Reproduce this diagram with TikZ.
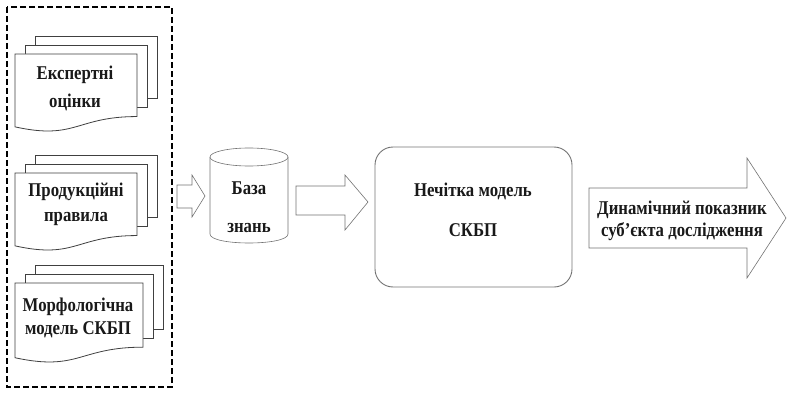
\documentclass[tikz,border=0pt]{standalone}
\usepackage{fontspec}
\setmainfont{Liberation Serif}[FakeStretch=0.86]
\newcommand\mydocstack[5]{% x, y, w, H, name
  \begin{scope}[shift={(#1,#2)}]
    \fill[white] (20,-18) rectangle ({#3+20},{0.802*#4-18});
    \draw[docline] (20,-9) -- (20,-18) -- ({#3+20},-18) -- ({#3+20},{0.802*#4-18}) -- ({#3+10},{0.802*#4-18});
    \fill[white] (10,-9) rectangle ({#3+10},{0.802*#4-9});
    \draw[docline] (10,0) -- (10,-9) -- ({#3+10},-9) -- ({#3+10},{0.802*#4-9}) -- (#3,{0.802*#4-9});
    \draw[docline,fill=white] (0,0) -- (#3,0) -- (#3,{0.802*#4})
      .. controls ({0.5*#3},{0.802*#4}) and ({0.5*#3},{1.107*#4}) .. (0,{0.934*#4}) -- cycle;
    \coordinate (#5) at ({0.5*#3},{0.43*#4});
  \end{scope}}
\begin{document}
\begin{tikzpicture}[x=1pt,y=-1pt,
  docline/.style={draw=black!75,line width=0.8pt},
  grayline/.style={draw=black!55,line width=0.6pt,fill=white},
  lbl/.style={font=\fontsize{19.5pt}{27pt}\selectfont\bfseries,align=center,inner sep=0pt,text=black!90}]
\useasboundingbox (0,0) rectangle (790,396);
% dashed group
\draw[black,line width=2pt,dash pattern=on 6pt off 3pt] (7,7) rectangle (172,387);
% documents
\mydocstack{15}{54}{122}{78}{d1}
\mydocstack{15}{173}{122}{78}{d2}
\mydocstack{15}{283}{128}{80}{d3}
\node[lbl,font=\fontsize{19.5pt}{28pt}\selectfont\bfseries] (t1) at (75,88) {Експертні\\оцінки};
\node[lbl,font=\fontsize{19.5pt}{25pt}\selectfont\bfseries] (t2) at (76,204) {Продукційні\\правила};
\node[lbl,font=\fontsize{19.5pt}{23pt}\selectfont\bfseries] (t3) at (78,318) {Морфологічна\\модель СКБП};
% arrow 1
\draw[grayline] (177,185) -- (192,185) -- (192,175) -- (205,196) -- (192,217) -- (192,208) -- (177,208) -- cycle;
% cylinder
\draw[grayline] (210,157) -- (210,234) .. controls (210,246) and (288,246) .. (288,234) -- (288,157);
\draw[grayline] (249,157) ellipse [x radius=39pt, y radius=9pt];
\node[lbl,font=\fontsize{19.5pt}{38pt}\selectfont\bfseries] (kb) at (249,207) {База\\знань};
% arrow 2
\draw[grayline] (296,186) -- (345,186) -- (345,175) -- (368,202) -- (345,230) -- (345,215) -- (296,215) -- cycle;
% fuzzy model
\draw[draw=black!55,line width=0.9pt,rounded corners=18pt] (375,147) rectangle (572,287);
\node[lbl,font=\fontsize{19.5pt}{40pt}\selectfont\bfseries] (fm) at (473,210) {Нечітка модель\\СКБП};
% output arrow
\draw[grayline] (589,188) -- (747,188) -- (747,158) -- (786,218) -- (747,278) -- (747,248) -- (589,248) -- cycle;
\node[lbl,font=\fontsize{19.5pt}{22pt}\selectfont\bfseries] (out) at (682,221) {Динамічний показник\\суб’єкта дослідження};
\end{tikzpicture}
\end{document}
